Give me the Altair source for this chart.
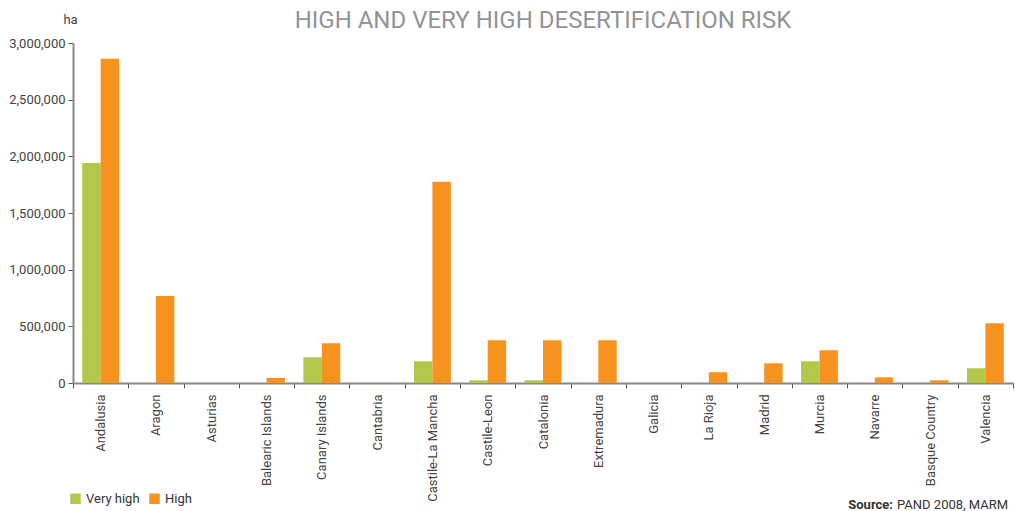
import altair as alt
import pandas as pd

# Hectares at high / very high desertification risk by autonomous community
regions = [
    "Andalusia", "Aragon", "Asturias", "Balearic Islands", "Canary Islands",
    "Cantabria", "Castile-La Mancha", "Castile-Leon", "Catalonia", "Extremadura",
    "Galicia", "La Rioja", "Madrid", "Murcia", "Navarre", "Basque Country", "Valencia",
]
very_high = [1942000, 0, 0, 0, 227000, 0, 192000, 24000, 24000, 0,
             0, 0, 0, 192000, 0, 0, 130000]
high = [2862000, 767000, 0, 45000, 351000, 0, 1775000, 377000, 377000, 377000,
        0, 95000, 174000, 289000, 50000, 24000, 528000]

series = ["Very high", "High"]
colors = ["#b3c84b", "#f7931e"]

rows = []
for i, r in enumerate(regions):
    rows.append({"region": r, "risk": "Very high", "ha": very_high[i]})
    rows.append({"region": r, "risk": "High", "ha": high[i]})
df = pd.DataFrame(rows)

FONT = "Roboto"
W, H = 940, 340

bars = alt.Chart(df).mark_bar().encode(
    x=alt.X(
        "region:N", sort=regions, title=None,
        scale=alt.Scale(paddingInner=0, paddingOuter=0),
        axis=alt.Axis(
            labelAngle=-90, labelFontSize=13, labelColor="#444444", labelFont=FONT,
            tickBand="extent", tickSize=5, tickColor="#555555",
            domainColor="#888888", domainWidth=2, labelPadding=6,
        ),
    ),
    xOffset=alt.XOffset("risk:N", sort=series,
                        scale=alt.Scale(paddingInner=0, paddingOuter=0.5)),
    y=alt.Y(
        "ha:Q", title="ha",
        scale=alt.Scale(domain=[0, 3000000], nice=False),
        axis=alt.Axis(
            values=[0, 500000, 1000000, 1500000, 2000000, 2500000, 3000000],
            format=",d", labelFontSize=13, labelColor="#444444", labelFont=FONT,
            tickSize=5, tickColor="#555555", domainColor="#888888", domainWidth=2,
            grid=False, labelPadding=3,
            titleAngle=0, titleX=-3, titleY=-17, titleAlign="center",
            titleFontSize=13, titleFontWeight="normal", titleColor="#444444",
            titleFont=FONT,
        ),
    ),
    color=alt.Color(
        "risk:N", sort=series, title=None,
        scale=alt.Scale(domain=series, range=colors),
        legend=alt.Legend(
            orient="none", legendX=-4, legendY=449, direction="horizontal",
            symbolType="square", symbolSize=110, symbolStrokeWidth=0,
            labelFontSize=13, labelFont=FONT, labelColor="#333333",
            columnPadding=8, labelOffset=4, symbolOpacity=1,
        ),
    ),
)

src_bold = alt.Chart(pd.DataFrame({"t": ["Source:"]})).mark_text(
    align="right", baseline="middle", fontSize=13, font=FONT,
    fontWeight="bold", color="#333333",
).encode(text="t:N", x=alt.value(820), y=alt.value(462))

src_rest = alt.Chart(pd.DataFrame({"t": ["PAND 2008, MARM"]})).mark_text(
    align="left", baseline="middle", fontSize=13, font=FONT, color="#333333",
).encode(text="t:N", x=alt.value(824), y=alt.value(462))

chart = alt.layer(bars, src_bold, src_rest).properties(
    width=W, height=H,
    title=alt.TitleParams(
        "HIGH AND VERY HIGH DESERTIFICATION RISK",
        anchor="middle", fontSize=24, font=FONT, fontWeight="normal",
        color="#929497", offset=0, dy=20,
    ),
    autosize=alt.AutoSizeParams(type="none"),
    padding={"left": 73, "top": 43, "right": 2, "bottom": 128},
).configure_view(stroke=None)

chart.save("out.html", embed_options={"renderer": "svg", "actions": False})
